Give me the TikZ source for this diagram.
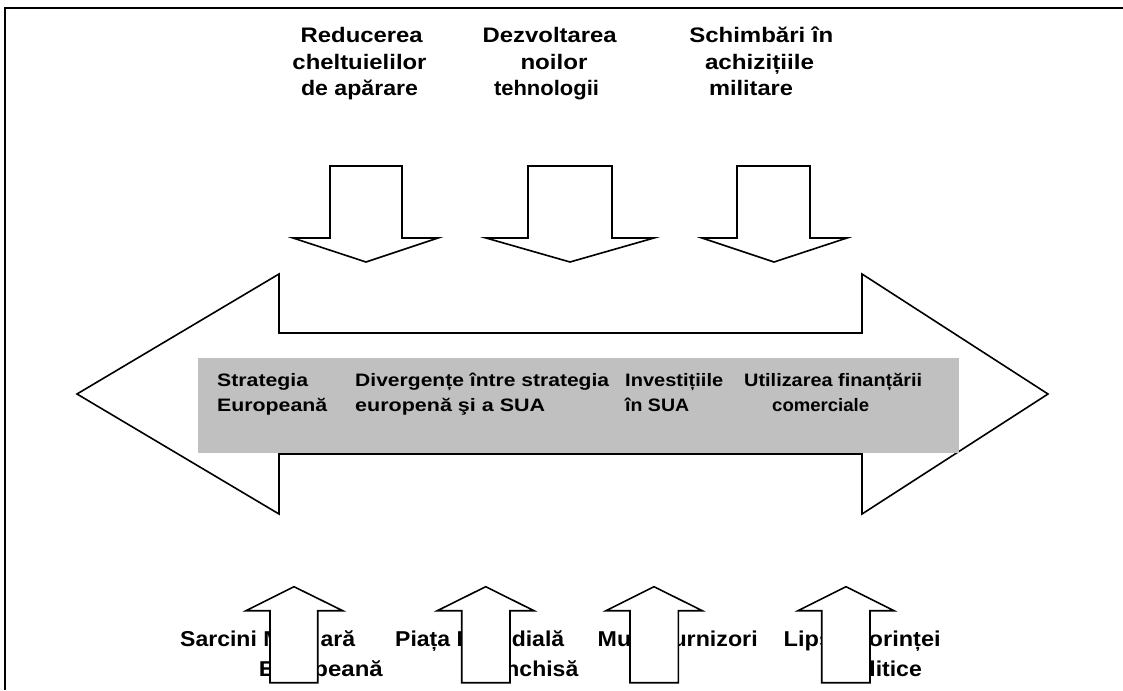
\documentclass[tikz,border=0pt]{standalone}
\usepackage{fontspec}
\usepackage{graphicx}
\setmainfont{Liberation Sans}
\newcommand{\fitw}[2]{\resizebox{#1pt}{\height}{#2}}
\newcommand{\sx}[1]{\scalebox{1.07}[1]{#1}}
\definecolor{boxgray}{HTML}{C0C0C0}
\tikzset{
  shapeline/.style={draw=black, line width=1.6, fill=white, line join=miter},
  frameline/.style={draw=black, line width=2},
  toplbl/.style={inner sep=0, anchor=base, font=\bfseries\fontsize{21}{21}\selectfont},
  midlbl/.style={inner sep=0, anchor=base west, font=\bfseries\fontsize{18}{18}\selectfont},
  botlbl/.style={inner sep=0, font=\bfseries\fontsize{21.5}{21.5}\selectfont},
}
\begin{document}
\begin{tikzpicture}[x=1pt,y=-1pt]
\useasboundingbox (0,0) rectangle (1123,690);
% frame
\draw[frameline] (5,690) -- (5,8) -- (1124,8);

% top labels
\node[toplbl] (r1) at (361.7,42.3) {\fitw{122}{Reducerea}};
\node[toplbl] (r2) at (359.5,69.3) {\fitw{134}{cheltuielilor}};
\node[toplbl] (r3) at (359.5,95.7) {\fitw{117}{de apărare}};
\node[toplbl] (d1) at (549.7,42.3) {\fitw{134}{Dezvoltarea}};
\node[toplbl] (d2) at (554,69.3) {\fitw{67}{noilor}};
\node[toplbl] (d3) at (546.5,95.7) {\fitw{105}{tehnologii}};
\node[toplbl] (s1) at (761.3,42.3) {\fitw{144}{Schimbări în}};
\node[toplbl] (s2) at (759.5,69.3) {\fitw{109}{achizițiile}};
\node[toplbl] (s3) at (751,95.7) {\fitw{84}{militare}};

% down arrows
\draw[shapeline] (330,166) -- (402,166) -- (402,238) -- (438,238) -- (366,262) -- (293,238) -- (330,238) -- cycle;
\draw[shapeline] (528,166) -- (612,166) -- (612,238) -- (654,238) -- (570,262) -- (486,238) -- (528,238) -- cycle;
\draw[shapeline] (737,166) -- (810,166) -- (810,238) -- (847,238) -- (774,262) -- (702,238) -- (737,238) -- cycle;

% big double arrow
\draw[shapeline] (77,394) -- (279,274) -- (279,333) -- (862,333) -- (862,274) -- (1048,394)
  -- (862,514) -- (862,454) -- (279,454) -- (279,514) -- cycle;
\fill[boxgray] (198,358) rectangle (959,453);

% middle labels
\node[midlbl] (m1a) at (217,386.7) {\fitw{91}{Strategia}};
\node[midlbl] (m1b) at (217,411) {\fitw{110}{Europeană}};
\node[midlbl] (m2a) at (355,386.7) {\fitw{254}{Divergențe între strategia}};
\node[midlbl] (m2b) at (355,411) {\fitw{190}{europenă şi a SUA}};
\node[midlbl] (m3a) at (625,386.7) {\fitw{98}{Investițiile}};
\node[midlbl] (m3b) at (625,411) {\fitw{64}{în SUA}};
\node[midlbl] (m4a) at (744,386.7) {\fitw{178}{Utilizarea finanțării}};
\node[midlbl] (m4b) at (772,411) {\fitw{97}{comerciale}};

% bottom labels
\node[botlbl, anchor=base west] (b1a) at (180,646.7) {\makebox[175pt][l]{\sx{Sarcini Milit}\hfill\sx{ară}}};
\node[botlbl, anchor=base east] (b1b) at (383,676) {\fitw{124}{Europeană}};
\node[botlbl, anchor=base west] (b2a) at (395,646.7) {\makebox[169pt][l]{\sx{Piața Mon}\hfill\sx{dială}}};
\node[botlbl, anchor=base east] (b2b) at (578.5,676) {\sx{Închisă}};
\node[botlbl, anchor=base west] (b3a) at (597.5,646.7) {\fitw{160}{Mulți Furnizori}};
\node[botlbl, anchor=base west] (b4a) at (783.5,646.7) {\fitw{157}{Lipsa Dorinței}};
\node[botlbl, anchor=base east] (b4b) at (922,676) {\sx{Politice}};

% up arrows
\draw[shapeline] (270,682.7) -- (270,610.7) -- (246,610.7) -- (294,586.7) -- (342.7,610.7) -- (317.7,610.7) -- (317.7,682.7) -- cycle;
\draw[shapeline] (461.7,682.7) -- (461.7,610.7) -- (437.3,610.7) -- (485.7,586.7) -- (534,610.7) -- (510,610.7) -- (510,682.7) -- cycle;
\draw[shapeline] (630,682.7) -- (630,610.7) -- (606,610.7) -- (654,586.7) -- (702.3,610.7) -- (678.3,610.7) -- (678.3,682.7) -- cycle;
\draw[shapeline] (821.7,682.7) -- (821.7,610.7) -- (798,610.7) -- (846,586.7) -- (894,610.7) -- (870,610.7) -- (870,682.7) -- cycle;
\end{tikzpicture}
\end{document}
